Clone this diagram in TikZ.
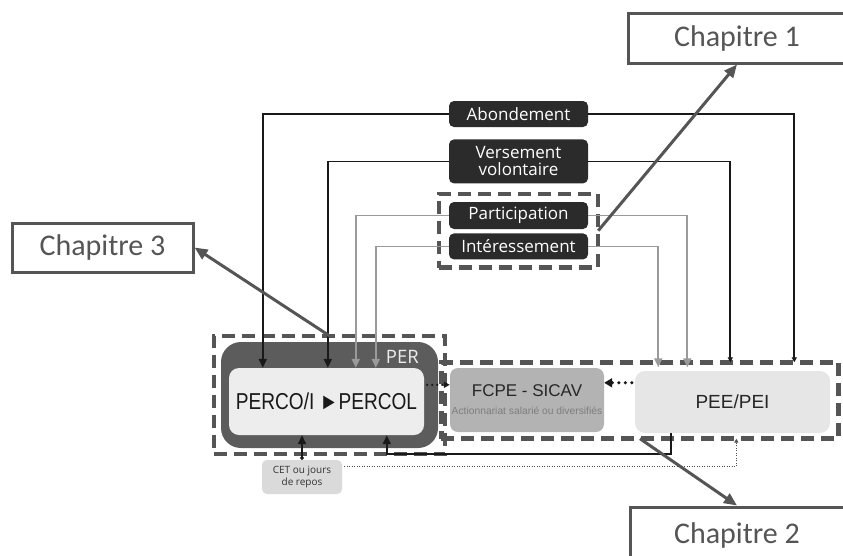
\documentclass[tikz,border=0pt]{standalone}
\usepackage{fontspec}
\setmainfont{Open Sans}
\newfontfamily\chapfont{Carlito}
\newfontfamily\arialfont{Liberation Sans}
\newfontfamily\arialnarrow[FakeStretch=0.83]{Liberation Sans}
\usetikzlibrary{positioning,arrows.meta,fit,calc}

\definecolor{boxdark}{HTML}{2B2B2B}
\definecolor{perdark}{HTML}{5C5C5C}
\definecolor{dashgrey}{HTML}{555555}
\definecolor{linegrey}{HTML}{9A9A9A}
\definecolor{chapgrey}{HTML}{555555}
\definecolor{percofill}{HTML}{EDEDED}
\definecolor{peefill}{HTML}{E6E6E6}
\definecolor{fcpefill}{HTML}{B3B3B3}
\definecolor{cetfill}{HTML}{DADADA}
\definecolor{subgrey}{HTML}{7E7E7E}

\begin{document}
\begin{tikzpicture}[x=1pt,y=-1pt,
  lbl/.style={rectangle,rounded corners=5pt,fill=boxdark,text=white,minimum width=139pt,align=center,inner sep=0pt,font=\fontsize{17}{17}\selectfont},
  chap/.style={rectangle,draw=chapgrey,line width=3pt,fill=white,text=chapgrey,inner sep=0pt,font=\chapfont\fontsize{30}{32}\selectfont},
  grp/.style={rectangle,draw=dashgrey,line width=4.5pt,dash pattern=on 13pt off 7pt,outer sep=0pt},
  blk/.style={draw=black!90,line width=1.8pt},
  gry/.style={draw=linegrey,line width=1.8pt},
  tipbig/.style={-{Triangle[length=9pt,width=8pt]}},
  tipsmall/.style={-{Triangle[length=5pt,width=5pt]}},
  bigdot/.style={draw=black!90,line width=3.5pt,line cap=round,dash pattern=on 0pt off 6.5pt,-{Triangle[length=8pt,width=9pt,line cap=butt]}},
  smalldot/.style={draw=black!90,line width=2.5pt,line cap=round,dash pattern=on 0pt off 5pt,-{Triangle[length=6pt,width=6pt,line cap=butt]}},
  cetdot/.style={draw=black!70,line width=1.2pt,dash pattern=on 1pt off 1.5pt,-{Triangle[length=4pt,width=4pt]}},
  chaparr/.style={draw=chapgrey,line width=3pt,-{Triangle[length=13pt,width=11pt]}}]
\useasboundingbox (0,0) rectangle (843,555);
\clip (0,0) rectangle (843,555);

% versements
\node[lbl,minimum height=26pt] (abond) at (518.5,114) {Abondement};
\node[lbl,minimum height=44pt,below=12pt of abond] (vers) {Versement\\volontaire};
\node[lbl,minimum height=27pt] (part) at (518.5,215.5) {Participation};
\node[lbl,minimum height=26pt,below=4pt of part] (inter) {Intéressement};
\node[grp,fit=(part)(inter),inner xsep=10pt,inner ysep=8pt] (epargne) {};

% PER
\node[fill=perdark,rounded corners=20pt,minimum width=217pt,minimum height=106pt,inner sep=0pt] (per) at (329.5,395) {};
\node[fill=percofill,rounded corners=10pt,minimum width=195pt,minimum height=67pt,inner sep=0pt,font=\arialnarrow\fontsize{23}{23}\selectfont,text=black!90] (perco) at (326.5,401.5) {PERCO/I ►PERCOL};
\node[anchor=east,text=white!93!black,font=\fontsize{18.5}{19}\selectfont,inner sep=0pt] (perlbl) at (419,357) {PER};
\node[grp,fit=(per),inner xsep=7pt,inner ysep=6pt] (pergrp) {};

% PEE
\node[fill=fcpefill,rounded corners=8pt,minimum width=154pt,minimum height=64pt] (fcpe) at (527,400) {};
\node[font=\arialfont\fontsize{17}{17}\selectfont,text=black!85] (fcpetit) at (527,391) {FCPE - SICAV};
\node[font=\arialfont\fontsize{10.3}{11}\selectfont,text=subgrey] (fcpesub) at (527,411) {Actionnariat salarié ou diversifiés};
\node[fill=peefill,rounded corners=10pt,minimum width=195pt,minimum height=62pt,font=\arialfont\fontsize{19}{19}\selectfont,text=black!85] (pee) at (732.5,402) {PEE/PEI};
\node[grp,fit=(fcpe)(pee),inner xsep=8.5pt,inner ysep=5.5pt] (peegrp) {};

\node[fill=cetfill,rounded corners=5pt,minimum width=80pt,minimum height=34pt,align=center,font=\fontsize{10}{12}\selectfont,text=black!80,inner sep=0pt] (cet) at (302,477) {CET ou jours\\de repos};

% chapitres
\node[chap,minimum width=218pt,minimum height=50pt] (chap1) at (737,38) {Chapitre 1};
\node[chap,minimum width=181pt,minimum height=49pt] (chap3) at (102.5,247.5) {Chapitre 3};
\node[chap,minimum width=214pt,minimum height=56pt] (chap2) at (737,535) {Chapitre 2};

% flux
\draw[blk,tipbig] (abond.west) -| ($(perco.north west)+(34,0)$);
\draw[blk,tipsmall] (abond.east) -| ($(peegrp.north west)+(353,0)$);
\draw[blk,tipbig] (vers.west) -| ($(perco.north west)+(99,0)$);
\draw[blk,tipsmall] (vers.east) -| ($(peegrp.north west)+(289,0)$);
\draw[gry,tipbig] (part.west) -| ($(perco.north west)+(127,0)$);
\draw[gry,tipbig] (part.east) -| ($(peegrp.north west)+(246,5)$);
\draw[gry,tipbig] (inter.west) -| ($(perco.north west)+(147,0)$);
\draw[gry,tipbig] (inter.east) -| ($(peegrp.north west)+(217,5)$);
\draw[blk,tipbig] ($(pee.south west)+(36,0)$) -- ++(0,21) -| ($(perco.south west)+(158,0)$);
\draw[blk,{Circle[length=3.5pt]}-{Triangle[length=9pt,width=8pt]}] (cet.north) -- (perco.south -| cet.north);
\draw[cetdot] ($(cet.north east)+(2,7)$) -| ($(peegrp.south west)+(295,0)$);
\draw[bigdot] ($(pee.north west)+(-3,12)$) -- ($(fcpe.north east)+(0,15)$);
\draw[smalldot] ($(perco.north east)+(3,17)$) -- ($(fcpe.north west)+(0,17)$);

\draw[chaparr] (epargne.east) -- (chap1.south);
\draw[chaparr] (pergrp.north) -- (chap3.east);
\draw[chaparr] (peegrp.south) -- (chap2.north);
\end{tikzpicture}
\end{document}
